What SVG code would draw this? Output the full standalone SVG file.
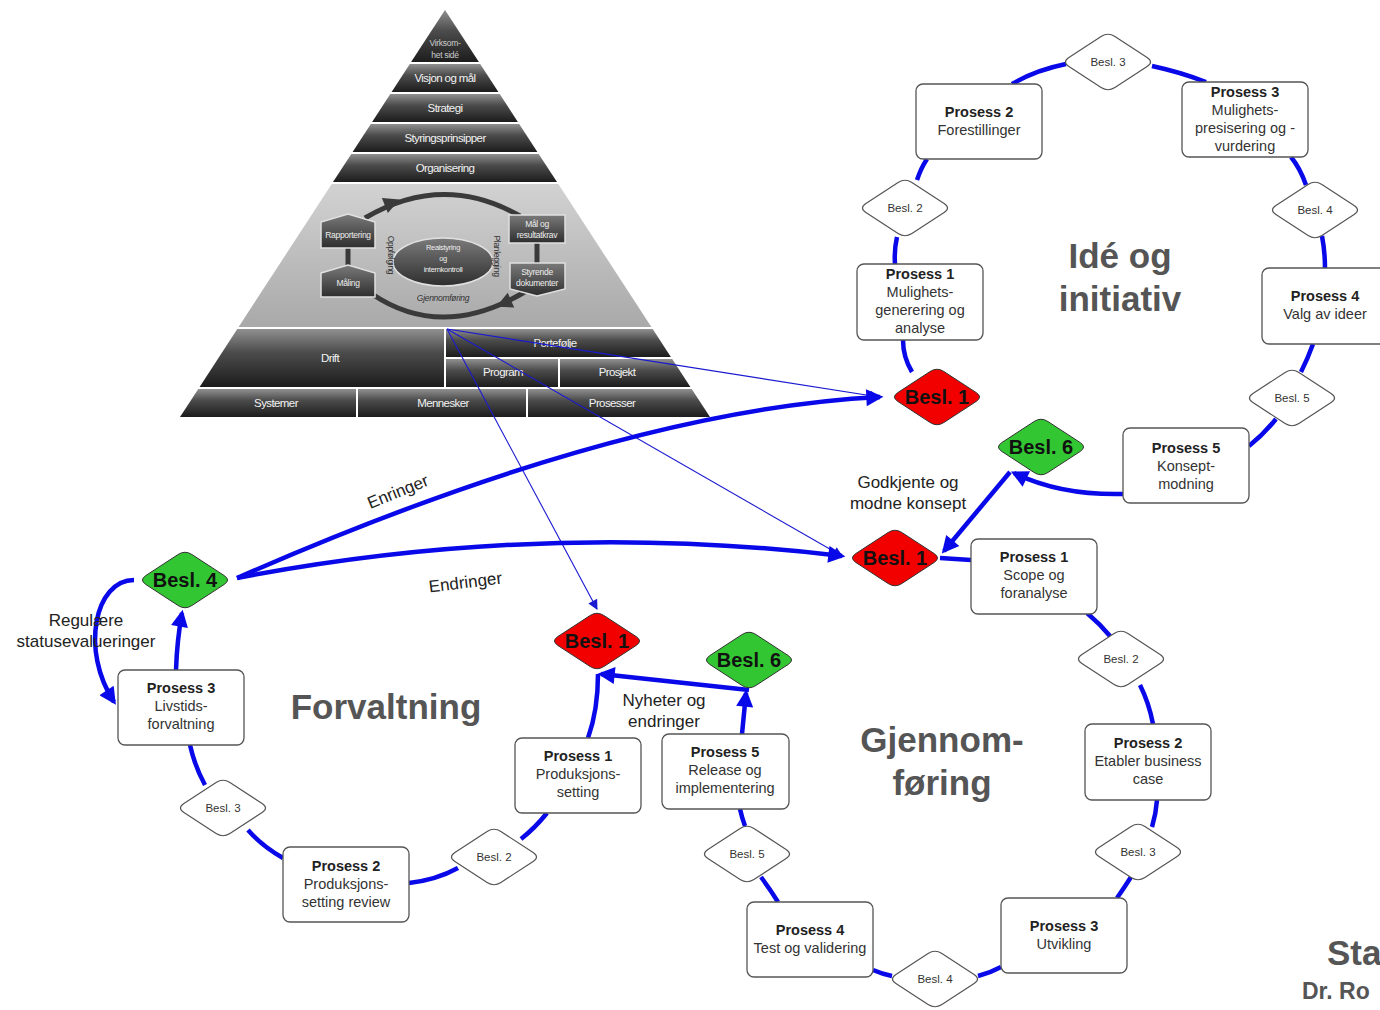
<svg xmlns="http://www.w3.org/2000/svg" width="1380" height="1010" viewBox="0 0 1380 1010">
<style>
.box{fill:#fff;stroke:#555;stroke-width:1.3}
.dw{fill:#fff;stroke:#555;stroke-width:1.2}
.dr{fill:#f20000;stroke:#333;stroke-width:1}
.dg{fill:#33c633;stroke:#333;stroke-width:1}
.c{fill:none;stroke:#0808e8;stroke-width:4.5}
.thin{fill:none;stroke:#1a1ad0;stroke-width:1.1}
.t{font-family:"Liberation Sans",Arial,sans-serif;text-anchor:middle}
.pb{font-weight:bold;font-size:14.5px;fill:#222}
.pr{font-size:14.5px;fill:#333}
.bs{font-size:11.5px;fill:#333}
.bb{font-size:20px;font-weight:bold;fill:#111}
.lb{font-size:17px;fill:#222}
.ti{font-size:35px;font-weight:bold;fill:#555}
.py{font-size:11.5px;fill:#f2f2f2;letter-spacing:-0.6px}
.ps{font-size:8.5px;fill:#eee;letter-spacing:-0.3px}
.pd{font-size:8.5px;fill:#333;letter-spacing:-0.3px}
.dk{fill:url(#gdk)}
.ib{fill:url(#gin);stroke:#e0e0e0;stroke-width:1.5}
</style>
<defs>
<linearGradient id="gdk" x1="0" y1="0" x2="0" y2="1">
<stop offset="0" stop-color="#909090"/><stop offset="0.4" stop-color="#4c4c4c"/><stop offset="1" stop-color="#1c1c1c"/>
</linearGradient>
<linearGradient id="glt" x1="0" y1="0" x2="0" y2="1">
<stop offset="0" stop-color="#d2d2d2"/><stop offset="1" stop-color="#a9a9a9"/>
</linearGradient>
<linearGradient id="gin" x1="0" y1="0" x2="0" y2="1">
<stop offset="0" stop-color="#7a7a7a"/><stop offset="1" stop-color="#2e2e2e"/>
</linearGradient>
<path id="dia" d="M-6.9,-25.5 Q0,-30 6.9,-25.5 L39.1,-4.5 Q46,0 39.1,4.5 L6.9,25.5 Q0,30 -6.9,25.5 L-39.1,4.5 Q-46,0 -39.1,-4.5 Z"/>
<marker id="ah" viewBox="0 0 10 10" refX="8" refY="5" markerWidth="4.6" markerHeight="3.8" orient="auto" markerUnits="strokeWidth">
<path d="M0,0 L10,5 L0,10 Z" fill="#0808e8"/>
</marker>
<marker id="at" viewBox="0 0 10 10" refX="9" refY="5" markerWidth="14" markerHeight="10" orient="auto" markerUnits="userSpaceOnUse">
<path d="M0,0 L10,5 L0,10 Z" fill="#1a1ad0"/>
</marker>
</defs>
<rect width="1380" height="1010" fill="#fff"/>

<!-- Pyramid -->
<g id="pyramid">
<polygon class="dk" points="445,10 411.1,62 478.9,62"/>
<polygon class="dk" points="409.8,64 480.2,64 498.4,92 391.6,92"/>
<polygon class="dk" points="390.3,94 499.7,94 517.9,122 372.1,122"/>
<polygon class="dk" points="370.8,124 519.2,124 537.4,152 352.6,152"/>
<polygon class="dk" points="351.3,154 538.7,154 557,182 333,182"/>
<polygon fill="url(#glt)" points="331.7,184 558.3,184 651.4,327 238.6,327"/>
<polygon class="dk" points="237.3,329 444,329 444,387 199.6,387"/>
<polygon class="dk" points="446,329 652.7,329 670.9,357 446,357"/>
<polygon class="dk" points="446,359 558,359 558,387 446,387"/>
<polygon class="dk" points="560,359 672.2,359 690.4,387 560,387"/>
<polygon class="dk" points="198.3,389 356,389 356,417 180,417"/>
<polygon class="dk" points="358,389 526,389 526,417 358,417"/>
<polygon class="dk" points="528,389 691.7,389 710,417 528,417"/>
<g class="t">
<text class="ps" x="445" y="46" style="fill:#ccc">Virksom-</text>
<text class="ps" x="445" y="58" style="fill:#ccc">het sidé</text>
<text class="py" x="445" y="82">Visjon og mål</text>
<text class="py" x="445" y="112">Strategi</text>
<text class="py" x="445" y="142">Styringsprinsipper</text>
<text class="py" x="445" y="172">Organisering</text>
<text class="py" x="330" y="362">Drift</text>
<text class="py" x="555" y="347">Portefølje</text>
<text class="py" x="503" y="376">Program</text>
<text class="py" x="617" y="376">Prosjekt</text>
<text class="py" x="276" y="407">Systemer</text>
<text class="py" x="443" y="407">Mennesker</text>
<text class="py" x="612" y="407">Prosesser</text>
</g>
<!-- inner loop -->
<path d="M365,218 Q443,172 520,216" fill="none" stroke="#3a3a3a" stroke-width="5"/>
<path d="M528,290 Q443,342 372,294" fill="none" stroke="#3a3a3a" stroke-width="5"/>
<polygon points="4,0 -12,-8 -12,8" fill="#3a3a3a" transform="translate(396,201) rotate(-22)"/>
<polygon points="4,0 -12,-8 -12,8" fill="#3a3a3a" transform="translate(500,305) rotate(156)"/>
<line x1="348" y1="247" x2="348" y2="267" stroke="#3a3a3a" stroke-width="5"/>
<line x1="537" y1="242" x2="537" y2="264" stroke="#3a3a3a" stroke-width="5"/>
<polygon class="ib" points="321,222 348,214 375,222 375,248 321,248"/>
<polygon class="ib" points="321,273 348,265 375,273 375,297 321,297"/>
<rect class="ib" x="509" y="215" width="56" height="28"/>
<polygon class="ib" points="510,263 565,263 565,289 537,296 510,289"/>
<ellipse class="ib" cx="443" cy="262" rx="50" ry="24"/>
<g class="t">
<text class="ps" x="348" y="238">Rapportering</text>
<text class="ps" x="348" y="286">Måling</text>
<text class="ps" x="537" y="227">Mål og</text>
<text class="ps" x="537" y="238">resultatkrav</text>
<text class="ps" x="537" y="275">Styrende</text>
<text class="ps" x="537" y="286">dokumenter</text>
<text class="ps" x="443" y="250" style="font-size:7.5px">Realstyring</text>
<text class="ps" x="443" y="261" style="font-size:7.5px">og</text>
<text class="ps" x="443" y="272" style="font-size:7.5px">internkontroll</text>
<text class="pd" x="0" y="0" transform="translate(388,255) rotate(90)">Oppfølging</text>
<text class="pd" x="0" y="0" transform="translate(494,256) rotate(90)">Planlegging</text>
<text class="pd" x="443" y="301" style="font-style:italic">Gjennomføring</text>
</g>
</g>

<!-- Connectors -->
<g id="connectors">
<path class="thin" d="M447,329 L879,397" marker-end="url(#at)"/>
<path class="thin" d="M447,329 L842,556" marker-end="url(#at)"/>
<path class="thin" d="M447,329 L597,609" marker-end="url(#at)"/>
<path class="c" d="M912,372 Q903,357 903,340"/>
<path class="c" d="M895,264 Q894,250 897,237"/>
<path class="c" d="M917,180 Q921,168 927,159"/>
<path class="c" d="M1012,84 Q1036,70 1066,64"/>
<path class="c" d="M1152,66 Q1180,72 1206,82"/>
<path class="c" d="M1291,157 Q1300,168 1306,185"/>
<path class="c" d="M1322,236 Q1325,252 1325,268"/>
<path class="c" d="M1313,344 Q1308,358 1301,372"/>
<path class="c" d="M1276,419 Q1264,434 1249,446"/>
<path class="c" d="M1123,494 C1080,495 1045,488 1014,473" marker-end="url(#ah)"/>
<path class="c" d="M1010,472 L944,551" marker-end="url(#ah)"/>
<path class="c" d="M940,558 L971,560"/>
<path class="c" d="M1087,613 Q1100,624 1110,636"/>
<path class="c" d="M1140,685 Q1149,703 1153,724"/>
<path class="c" d="M1157,800 Q1156,814 1152,827"/>
<path class="c" d="M1131,877 Q1124,888 1117,898"/>
<path class="c" d="M1001,967 Q990,973 978,976"/>
<path class="c" d="M892,976 Q882,974 873,970"/>
<path class="c" d="M778,902 Q770,889 761,877"/>
<path class="c" d="M745,826 Q742,818 740,809"/>
<path class="c" d="M742,734 L746,693" marker-end="url(#ah)"/>
<path class="c" d="M749,690 L601,674" marker-end="url(#ah)"/>
<path class="c" d="M598,674 Q598,710 588,738"/>
<path class="c" d="M547,813 Q535,828 521,839"/>
<path class="c" d="M458,868 Q436,880 409,883"/>
<path class="c" d="M283,858 Q262,846 248,830"/>
<path class="c" d="M205,785 Q195,767 190,745"/>
<path class="c" d="M176,670 Q177,640 182,613" marker-end="url(#ah)"/>
<path class="c" d="M134,580 C95,580 80,650 114,702" marker-end="url(#ah)"/>
<path class="c" d="M237,578 Q620,410 880,397" marker-end="url(#ah)"/>
<path class="c" d="M237,578 Q540,520 842,556" marker-end="url(#ah)"/>
</g>

<!-- Labels -->
<g class="t">
<text class="lb" transform="translate(400,497) rotate(-22)">Enringer</text>
<text class="lb" transform="translate(466,588) rotate(-7)">Endringer</text>
<text class="lb" x="86" y="626">Regulære</text>
<text class="lb" x="86" y="647">statusevalueringer</text>
<text class="lb" x="908" y="488">Godkjente og</text>
<text class="lb" x="908" y="509">modne konsept</text>
<text class="lb" x="664" y="706">Nyheter og</text>
<text class="lb" x="664" y="727">endringer</text>
<text class="ti" x="1120" y="268">Idé og</text>
<text class="ti" x="1120" y="311">initiativ</text>
<text class="ti" x="386" y="719">Forvaltning</text>
<text class="ti" x="942" y="752">Gjennom-</text>
<text class="ti" x="942" y="795">føring</text>
</g>
<text x="1327" y="965" font-family="Liberation Sans,Arial,sans-serif" font-size="35" font-weight="bold" fill="#555">Sta</text>
<text x="1302" y="999" font-family="Liberation Sans,Arial,sans-serif" font-size="23" font-weight="bold" fill="#555">Dr. Ro</text>

<!-- Idé og initiativ nodes -->
<g id="i-b3"><use href="#dia" class="dw" x="1108" y="62"/><text class="t bs" x="1108" y="66">Besl. 3</text></g>
<g id="i-p2"><rect class="box" x="916" y="84" width="126" height="75" rx="7"/><text class="t pb" x="979" y="117">Prosess 2</text><text class="t pr" x="979" y="135">Forestillinger</text></g>
<g id="i-p3"><rect class="box" x="1182" y="82" width="126" height="75" rx="7"/><text class="t pb" x="1245" y="97">Prosess 3</text><text class="t pr" x="1245" y="115">Mulighets-</text><text class="t pr" x="1245" y="133">presisering og -</text><text class="t pr" x="1245" y="151">vurdering</text></g>
<g id="i-b2"><use href="#dia" class="dw" x="905" y="208"/><text class="t bs" x="905" y="212">Besl. 2</text></g>
<g id="i-b4"><use href="#dia" class="dw" x="1315" y="210"/><text class="t bs" x="1315" y="214">Besl. 4</text></g>
<g id="i-p1"><rect class="box" x="857" y="264" width="126" height="76" rx="7"/><text class="t pb" x="920" y="279">Prosess 1</text><text class="t pr" x="920" y="297">Mulighets-</text><text class="t pr" x="920" y="315">generering og</text><text class="t pr" x="920" y="333">analyse</text></g>
<g id="i-p4"><rect class="box" x="1262" y="268" width="126" height="76" rx="7"/><text class="t pb" x="1325" y="301">Prosess 4</text><text class="t pr" x="1325" y="319">Valg av ideer</text></g>
<g id="i-b5"><use href="#dia" class="dw" x="1292" y="398"/><text class="t bs" x="1292" y="402">Besl. 5</text></g>
<g id="i-p5"><rect class="box" x="1123" y="428" width="126" height="75" rx="7"/><text class="t pb" x="1186" y="453">Prosess 5</text><text class="t pr" x="1186" y="471">Konsept-</text><text class="t pr" x="1186" y="489">modning</text></g>
<g id="i-b6"><use href="#dia" class="dg" x="1041" y="447"/><text class="t bb" x="1041" y="454">Besl. 6</text></g>
<g id="i-b1"><use href="#dia" class="dr" x="937" y="397"/><text class="t bb" x="937" y="404">Besl. 1</text></g>

<!-- Gjennomføring nodes -->
<g id="g-b1"><use href="#dia" class="dr" x="895" y="558"/><text class="t bb" x="895" y="565">Besl. 1</text></g>
<g id="g-p1"><rect class="box" x="971" y="539" width="126" height="75" rx="7"/><text class="t pb" x="1034" y="562">Prosess 1</text><text class="t pr" x="1034" y="580">Scope og</text><text class="t pr" x="1034" y="598">foranalyse</text></g>
<g id="g-b2"><use href="#dia" class="dw" x="1121" y="659"/><text class="t bs" x="1121" y="663">Besl. 2</text></g>
<g id="g-p2"><rect class="box" x="1085" y="724" width="126" height="76" rx="7"/><text class="t pb" x="1148" y="748">Prosess 2</text><text class="t pr" x="1148" y="766">Etabler business</text><text class="t pr" x="1148" y="784">case</text></g>
<g id="g-b3"><use href="#dia" class="dw" x="1138" y="852"/><text class="t bs" x="1138" y="856">Besl. 3</text></g>
<g id="g-p3"><rect class="box" x="1001" y="898" width="126" height="75" rx="7"/><text class="t pb" x="1064" y="931">Prosess 3</text><text class="t pr" x="1064" y="949">Utvikling</text></g>
<g id="g-b4"><use href="#dia" class="dw" x="935" y="979"/><text class="t bs" x="935" y="983">Besl. 4</text></g>
<g id="g-p4"><rect class="box" x="747" y="902" width="126" height="75" rx="7"/><text class="t pb" x="810" y="935">Prosess 4</text><text class="t pr" x="810" y="953">Test og validering</text></g>
<g id="g-b5"><use href="#dia" class="dw" x="747" y="854"/><text class="t bs" x="747" y="858">Besl. 5</text></g>
<g id="g-p5"><rect class="box" x="662" y="734" width="127" height="75" rx="7"/><text class="t pb" x="725" y="757">Prosess 5</text><text class="t pr" x="725" y="775">Release og</text><text class="t pr" x="725" y="793">implementering</text></g>
<g id="g-b6"><use href="#dia" class="dg" x="749" y="660"/><text class="t bb" x="749" y="667">Besl. 6</text></g>

<!-- Forvaltning nodes -->
<g id="f-b1"><use href="#dia" class="dr" x="597" y="641"/><text class="t bb" x="597" y="648">Besl. 1</text></g>
<g id="f-p1"><rect class="box" x="515" y="738" width="126" height="75" rx="7"/><text class="t pb" x="578" y="761">Prosess 1</text><text class="t pr" x="578" y="779">Produksjons-</text><text class="t pr" x="578" y="797">setting</text></g>
<g id="f-b2"><use href="#dia" class="dw" x="494" y="857"/><text class="t bs" x="494" y="861">Besl. 2</text></g>
<g id="f-p2"><rect class="box" x="283" y="847" width="126" height="75" rx="7"/><text class="t pb" x="346" y="871">Prosess 2</text><text class="t pr" x="346" y="889">Produksjons-</text><text class="t pr" x="346" y="907">setting review</text></g>
<g id="f-b3"><use href="#dia" class="dw" x="223" y="808"/><text class="t bs" x="223" y="812">Besl. 3</text></g>
<g id="f-p3"><rect class="box" x="118" y="670" width="126" height="75" rx="7"/><text class="t pb" x="181" y="693">Prosess 3</text><text class="t pr" x="181" y="711">Livstids-</text><text class="t pr" x="181" y="729">forvaltning</text></g>
<g id="f-b4"><use href="#dia" class="dg" x="185" y="580"/><text class="t bb" x="185" y="587">Besl. 4</text></g>
</svg>
